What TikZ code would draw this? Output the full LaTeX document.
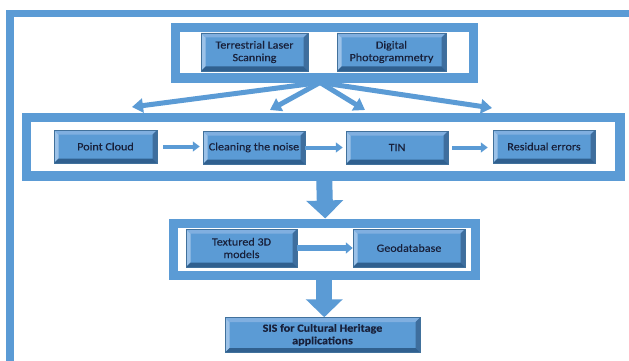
\documentclass[tikz,border=0pt]{standalone}
\usepackage{fontspec}
\setmainfont{Carlito}[FakeStretch=1.1, FakeBold=0.3]
\usetikzlibrary{arrows.meta}
\definecolor{fb}{HTML}{5B9BD5}
\definecolor{fbdark}{HTML}{41719C}
\definecolor{bvL}{HTML}{9CC2E8}
\definecolor{bvT}{HTML}{80AFE0}
\definecolor{bvR}{HTML}{3E6E9E}
\definecolor{bvB}{HTML}{30608F}
\definecolor{txt}{HTML}{18203A}
\tikzset{
  bev/.style={fill=fb, draw=fbdark, line width=0.5pt, inner sep=0pt, text=txt,
    font=\fontsize{11}{12.5}\selectfont, align=center,
    path picture={
      \def\bw{4.5pt}
      \fill[bvL] (path picture bounding box.south west) -- (path picture bounding box.north west)
        -- ([xshift=\bw,yshift=-\bw]path picture bounding box.north west)
        -- ([xshift=\bw,yshift=\bw]path picture bounding box.south west) -- cycle;
      \fill[bvT] (path picture bounding box.north west) -- (path picture bounding box.north east)
        -- ([xshift=-\bw,yshift=-\bw]path picture bounding box.north east)
        -- ([xshift=\bw,yshift=-\bw]path picture bounding box.north west) -- cycle;
      \fill[bvR] (path picture bounding box.north east) -- (path picture bounding box.south east)
        -- ([xshift=-\bw,yshift=\bw]path picture bounding box.south east)
        -- ([xshift=-\bw,yshift=-\bw]path picture bounding box.north east) -- cycle;
      \fill[bvB] (path picture bounding box.south west) -- (path picture bounding box.south east)
        -- ([xshift=-\bw,yshift=\bw]path picture bounding box.south east)
        -- ([xshift=\bw,yshift=\bw]path picture bounding box.south west) -- cycle;
    }},
  grpframe/.style={draw=fb, line width=9pt, fill=white, inner sep=0pt},
  fanarrow/.style={draw=fb, line width=5pt, -{Triangle[width=14pt,length=11pt]}},
  smallarrow/.style={draw=fb, line width=4pt, -{Triangle[width=10pt,length=7pt]}},
  midarrow/.style={draw=fb, line width=6.5pt, -{Triangle[width=11pt,length=7pt]}},
  bigarrow/.style={draw=fb, line width=16pt, -{Triangle[width=36pt,length=18pt]}},
}
\begin{document}
\begin{tikzpicture}[x=1pt, y=-1pt]
\useasboundingbox (0,0) rectangle (629,361);
\clip (0,0) rectangle (629,361);
\fill[white] (0,0) rectangle (629,361);
% outer frame
\draw[fb, line width=7.5pt] (10,13.5) rectangle (660,400);
% group frames
\node[grpframe, minimum width=298pt, minimum height=50.5pt] (topgrp) at (324,52.75) {};
\node[grpframe, line width=9.5pt, minimum width=593.5pt, minimum height=58.5pt] (midgrp) at (323.25,146.75) {};
\node[grpframe, minimum width=302.5pt, minimum height=52pt] (botgrp) at (324.25,249) {};
% boxes
\node[bev, minimum width=107pt, minimum height=38pt] (tls) at (254.5,52) {Terrestrial Laser\\Scanning};
\node[bev, minimum width=109pt, minimum height=38pt] (dp) at (391.5,52) {Digital\\Photogrammetry};
\node[bev, minimum width=103pt, minimum height=33pt] (pc) at (105.5,146.5) {Point Cloud};
\node[bev, minimum width=102pt, minimum height=33pt] (clean) at (254,147.5) {Cleaning the noise};
\node[bev, minimum width=102pt, minimum height=33pt] (tin) at (397,147.5) {TIN};
\node[bev, minimum width=102pt, minimum height=33pt] (res) at (544,146.5) {Residual errors};
\node[bev, minimum width=111pt, minimum height=38pt] (tex) at (241.5,248) {Textured 3D\\models};
\node[bev, minimum width=112pt, minimum height=38pt] (geo) at (409,248) {Geodatabase};
\node[bev, minimum width=195pt, minimum height=35pt, font=\bfseries\fontsize{11}{12.5}\selectfont] (sis) at (322.5,335) {SIS for Cultural Heritage\\applications};
% fan arrows
\coordinate (apex) at ([xshift=-4pt]topgrp.south);
\coordinate (f1) at (132,107);
\coordinate (f2) at (270,110);
\coordinate (f3) at (365,110);
\coordinate (f4) at (492,108);
\draw[fanarrow] (apex) -- (f1);
\draw[fanarrow] (apex) -- (f2);
\draw[fanarrow] (apex) -- (f3);
\draw[fanarrow] (apex) -- (f4);
% row arrows
\draw[smallarrow, shorten <=6pt, shorten >=3pt] (pc.east) -- (clean.west |- pc.east);
\draw[smallarrow, shorten >=3pt] (clean.east) -- (tin.west |- clean.east);
\draw[smallarrow, shorten <=4pt, shorten >=5pt] (tin.east) -- (res.west |- tin.east);
\draw[midarrow] (tex.east) -- (geo.west |- tex.east);
% big arrows
\draw[bigarrow] ([xshift=1pt]midgrp.south) -- ([xshift=1pt]botgrp.north);
\draw[bigarrow] (botgrp.south) -- (botgrp.south |- sis.north);
\end{tikzpicture}
\end{document}
